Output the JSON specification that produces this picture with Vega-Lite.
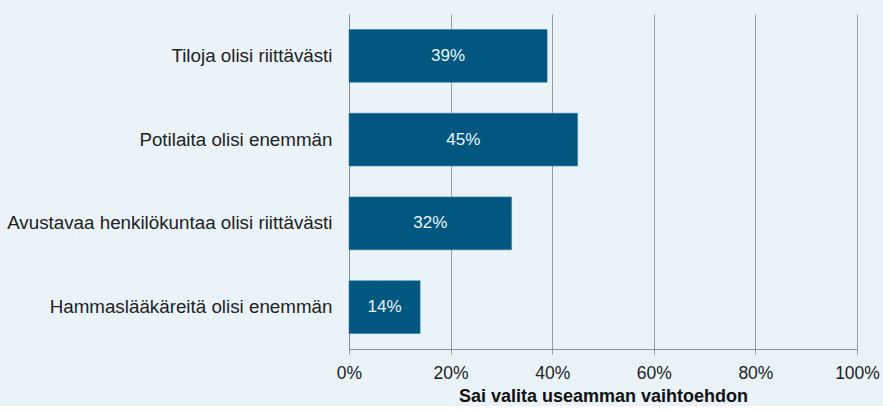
{
  "$schema": "https://vega.github.io/schema/vega-lite/v6.json",
  "width": 508,
  "height": 335,
  "padding": {"left": 0, "top": 14, "right": 5, "bottom": 0},
  "background": "#e9f3f8",
  "config": {
    "view": {"stroke": null},
    "font": "Liberation Sans"
  },
  "data": {
    "values": [
      {"kategoria": "Tiloja olisi riittävästi", "osuus": 0.39},
      {"kategoria": "Potilaita olisi enemmän", "osuus": 0.45},
      {"kategoria": "Avustavaa henkilökuntaa olisi riittävästi", "osuus": 0.32},
      {"kategoria": "Hammaslääkäreitä olisi enemmän", "osuus": 0.14}
    ]
  },
  "encoding": {
    "y": {
      "field": "kategoria",
      "type": "nominal",
      "sort": null,
      "title": null,
      "scale": {"paddingInner": 0.37, "paddingOuter": 0.185},
      "axis": {
        "ticks": false,
        "labelFontSize": 18.8,
        "labelColor": "#222222",
        "labelPadding": 17,
        "domainColor": "#8c8c8c",
        "minExtent": 349,
        "maxExtent": 349,
        "labelLimit": 400
      }
    }
  },
  "layer": [
    {
      "mark": {"type": "bar", "color": "#01577f", "stroke": "#3a7fa3", "strokeWidth": 0.6},
      "encoding": {
        "x": {
          "field": "osuus",
          "type": "quantitative",
          "scale": {"domain": [0, 1]},
          "title": "Sai valita useamman vaihtoehdon",
          "axis": {
            "format": ".0%",
            "values": [0, 0.2, 0.4, 0.6, 0.8, 1],
            "labelFlush": false,
            "labelFontSize": 17.5,
            "labelColor": "#222222",
            "labelPadding": 10,
            "tickSize": 5,
            "tickColor": "#9a9a9a",
            "domainColor": "#8c8c8c",
            "gridColor": "#9a9a9a",
            "gridOpacity": 1,
            "titleFontSize": 18,
            "titleFontWeight": "bold",
            "titleColor": "#111111",
            "titlePadding": 6
          }
        }
      }
    },
    {
      "mark": {"type": "text", "color": "#eef4f8", "fontSize": 17, "align": "center", "baseline": "middle"},
      "transform": [{"calculate": "datum.osuus / 2", "as": "keski"}],
      "encoding": {
        "x": {"field": "keski", "type": "quantitative"},
        "text": {"field": "osuus", "type": "quantitative", "format": ".0%"}
      }
    }
  ]
}
